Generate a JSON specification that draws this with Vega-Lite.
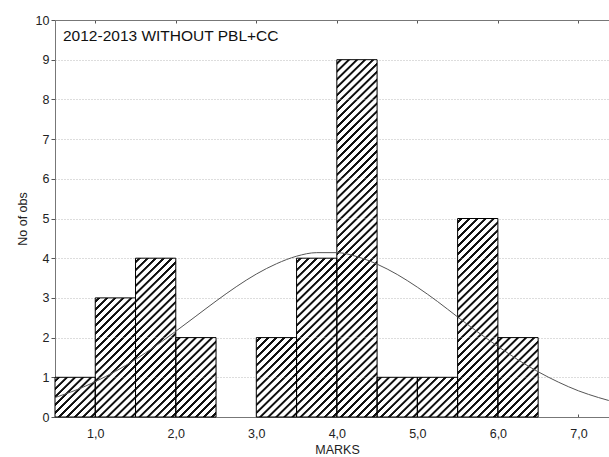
{
  "$schema": "https://vega.github.io/schema/vega-lite/v6.json",
  "width": 554,
  "height": 397,
  "autosize": "none",
  "padding": {"left": 55, "top": 20, "right": 0, "bottom": 40},
  "background": "white",
  "title": {
    "text": "2012-2013 WITHOUT PBL+CC",
    "anchor": "start",
    "frame": "group",
    "offset": -30,
    "dx": 8,
    "fontSize": 15.5,
    "fontWeight": "normal",
    "color": "#111111",
    "font": "Liberation Sans"
  },
  "config": {
    "font": "Liberation Sans",
    "view": {"stroke": null},
    "axisY": {
      "values": [0, 1, 2, 3, 4, 5, 6, 7, 8, 9, 10],
      "grid": true,
      "gridDash": [1, 2],
      "gridColor": "#bbbbbb",
      "gridWidth": 1,
      "domainColor": "#777777",
      "tickColor": "#555555",
      "tickSize": 4,
      "labelPadding": 2,
      "labelFontSize": 12.5,
      "labelColor": "#222222",
      "titleFontSize": 12.5,
      "titleFontWeight": "normal",
      "titleColor": "#222222",
      "titlePadding": 6
    }
  },
  "datasets": {
    "bins": [
      {"start": 0.5, "end": 1.0, "count": 1},
      {"start": 1.0, "end": 1.5, "count": 3},
      {"start": 1.5, "end": 2.0, "count": 4},
      {"start": 2.0, "end": 2.5, "count": 2},
      {"start": 2.5, "end": 3.0, "count": 0},
      {"start": 3.0, "end": 3.5, "count": 2},
      {"start": 3.5, "end": 4.0, "count": 4},
      {"start": 4.0, "end": 4.5, "count": 9},
      {"start": 4.5, "end": 5.0, "count": 1},
      {"start": 5.0, "end": 5.5, "count": 1},
      {"start": 5.5, "end": 6.0, "count": 5},
      {"start": 6.0, "end": 6.5, "count": 2},
      {"start": 6.5, "end": 7.0, "count": 0}
    ],
    "curve": [
      {"marks_value": 0.5, "expected": 0.49},
      {"marks_value": 0.75, "expected": 0.67},
      {"marks_value": 1.0, "expected": 0.89},
      {"marks_value": 1.25, "expected": 1.15},
      {"marks_value": 1.5, "expected": 1.45},
      {"marks_value": 1.75, "expected": 1.79},
      {"marks_value": 2.0, "expected": 2.16},
      {"marks_value": 2.25, "expected": 2.54},
      {"marks_value": 2.5, "expected": 2.92},
      {"marks_value": 2.75, "expected": 3.28},
      {"marks_value": 3.0, "expected": 3.6},
      {"marks_value": 3.25, "expected": 3.86},
      {"marks_value": 3.5, "expected": 4.05},
      {"marks_value": 3.75, "expected": 4.14},
      {"marks_value": 4.0, "expected": 4.14},
      {"marks_value": 4.25, "expected": 4.04},
      {"marks_value": 4.5, "expected": 3.85},
      {"marks_value": 4.75, "expected": 3.59},
      {"marks_value": 5.0, "expected": 3.27},
      {"marks_value": 5.25, "expected": 2.91},
      {"marks_value": 5.5, "expected": 2.52},
      {"marks_value": 5.75, "expected": 2.14},
      {"marks_value": 6.0, "expected": 1.78},
      {"marks_value": 6.25, "expected": 1.44},
      {"marks_value": 6.5, "expected": 1.14},
      {"marks_value": 6.75, "expected": 0.88},
      {"marks_value": 7.0, "expected": 0.66},
      {"marks_value": 7.25, "expected": 0.49},
      {"marks_value": 7.5, "expected": 0.35}
    ]
  },
  "resolve": {"axis": {"x": "independent"}},
  "layer": [
    {
      "data": {"name": "bins"},
      "encoding": {
        "x": {
          "field": "start",
          "type": "quantitative",
          "scale": {"domain": [0.5, 7.38], "nice": false, "zero": false},
          "axis": {
            "orient": "bottom",
            "values": [1, 2, 3, 4, 5, 6, 7],
            "labelExpr": "replace(format(datum.value, '.1f'), '.', ',')",
            "grid": false,
            "domainColor": "#777777",
            "tickColor": "#555555",
            "tickSize": -3,
            "labelPadding": 13,
            "labelFontSize": 12.5,
            "labelColor": "#222222",
            "title": "MARKS",
            "titleFontSize": 12.5,
            "titleFontWeight": "normal",
            "titleColor": "#222222",
            "titlePadding": 4,
            "titleX": 282
          }
        },
        "x2": {"field": "end"},
        "y": {
          "field": "count",
          "type": "quantitative",
          "scale": {"domain": [0, 10], "nice": false},
          "title": "No of obs"
        }
      },
      "layer": [
        {"transform": [{"filter": "datum.count >= 1"}], "mark": {"type": "rect", "opacity": 1, "fill": {"gradient": "linear", "x1": 0, "y1": 0, "x2": 1, "y2": 1, "stops": [{"offset": 0, "color": "#ffffff"}, {"offset": 0.028, "color": "#ffffff"}, {"offset": 0.036, "color": "#111111"}, {"offset": 0.064, "color": "#111111"}, {"offset": 0.072, "color": "#ffffff"}, {"offset": 0.128, "color": "#ffffff"}, {"offset": 0.136, "color": "#111111"}, {"offset": 0.164, "color": "#111111"}, {"offset": 0.172, "color": "#ffffff"}, {"offset": 0.228, "color": "#ffffff"}, {"offset": 0.236, "color": "#111111"}, {"offset": 0.264, "color": "#111111"}, {"offset": 0.272, "color": "#ffffff"}, {"offset": 0.328, "color": "#ffffff"}, {"offset": 0.336, "color": "#111111"}, {"offset": 0.364, "color": "#111111"}, {"offset": 0.372, "color": "#ffffff"}, {"offset": 0.428, "color": "#ffffff"}, {"offset": 0.436, "color": "#111111"}, {"offset": 0.464, "color": "#111111"}, {"offset": 0.472, "color": "#ffffff"}, {"offset": 0.528, "color": "#ffffff"}, {"offset": 0.536, "color": "#111111"}, {"offset": 0.564, "color": "#111111"}, {"offset": 0.572, "color": "#ffffff"}, {"offset": 0.628, "color": "#ffffff"}, {"offset": 0.636, "color": "#111111"}, {"offset": 0.664, "color": "#111111"}, {"offset": 0.672, "color": "#ffffff"}, {"offset": 0.728, "color": "#ffffff"}, {"offset": 0.736, "color": "#111111"}, {"offset": 0.764, "color": "#111111"}, {"offset": 0.772, "color": "#ffffff"}, {"offset": 0.828, "color": "#ffffff"}, {"offset": 0.836, "color": "#111111"}, {"offset": 0.864, "color": "#111111"}, {"offset": 0.872, "color": "#ffffff"}, {"offset": 0.928, "color": "#ffffff"}, {"offset": 0.936, "color": "#111111"}, {"offset": 0.964, "color": "#111111"}, {"offset": 0.972, "color": "#ffffff"}, {"offset": 1, "color": "#ffffff"}]}}, "encoding": {"y": {"datum": 0, "type": "quantitative"}, "y2": {"datum": 1}}},
        {"transform": [{"filter": "datum.count >= 2"}], "mark": {"type": "rect", "opacity": 1, "fill": {"gradient": "linear", "x1": 0, "y1": 0, "x2": 1, "y2": 1, "stops": [{"offset": 0, "color": "#ffffff"}, {"offset": 0.028, "color": "#ffffff"}, {"offset": 0.036, "color": "#111111"}, {"offset": 0.064, "color": "#111111"}, {"offset": 0.072, "color": "#ffffff"}, {"offset": 0.128, "color": "#ffffff"}, {"offset": 0.136, "color": "#111111"}, {"offset": 0.164, "color": "#111111"}, {"offset": 0.172, "color": "#ffffff"}, {"offset": 0.228, "color": "#ffffff"}, {"offset": 0.236, "color": "#111111"}, {"offset": 0.264, "color": "#111111"}, {"offset": 0.272, "color": "#ffffff"}, {"offset": 0.328, "color": "#ffffff"}, {"offset": 0.336, "color": "#111111"}, {"offset": 0.364, "color": "#111111"}, {"offset": 0.372, "color": "#ffffff"}, {"offset": 0.428, "color": "#ffffff"}, {"offset": 0.436, "color": "#111111"}, {"offset": 0.464, "color": "#111111"}, {"offset": 0.472, "color": "#ffffff"}, {"offset": 0.528, "color": "#ffffff"}, {"offset": 0.536, "color": "#111111"}, {"offset": 0.564, "color": "#111111"}, {"offset": 0.572, "color": "#ffffff"}, {"offset": 0.628, "color": "#ffffff"}, {"offset": 0.636, "color": "#111111"}, {"offset": 0.664, "color": "#111111"}, {"offset": 0.672, "color": "#ffffff"}, {"offset": 0.728, "color": "#ffffff"}, {"offset": 0.736, "color": "#111111"}, {"offset": 0.764, "color": "#111111"}, {"offset": 0.772, "color": "#ffffff"}, {"offset": 0.828, "color": "#ffffff"}, {"offset": 0.836, "color": "#111111"}, {"offset": 0.864, "color": "#111111"}, {"offset": 0.872, "color": "#ffffff"}, {"offset": 0.928, "color": "#ffffff"}, {"offset": 0.936, "color": "#111111"}, {"offset": 0.964, "color": "#111111"}, {"offset": 0.972, "color": "#ffffff"}, {"offset": 1, "color": "#ffffff"}]}}, "encoding": {"y": {"datum": 1, "type": "quantitative"}, "y2": {"datum": 2}}},
        {"transform": [{"filter": "datum.count >= 3"}], "mark": {"type": "rect", "opacity": 1, "fill": {"gradient": "linear", "x1": 0, "y1": 0, "x2": 1, "y2": 1, "stops": [{"offset": 0, "color": "#ffffff"}, {"offset": 0.028, "color": "#ffffff"}, {"offset": 0.036, "color": "#111111"}, {"offset": 0.064, "color": "#111111"}, {"offset": 0.072, "color": "#ffffff"}, {"offset": 0.128, "color": "#ffffff"}, {"offset": 0.136, "color": "#111111"}, {"offset": 0.164, "color": "#111111"}, {"offset": 0.172, "color": "#ffffff"}, {"offset": 0.228, "color": "#ffffff"}, {"offset": 0.236, "color": "#111111"}, {"offset": 0.264, "color": "#111111"}, {"offset": 0.272, "color": "#ffffff"}, {"offset": 0.328, "color": "#ffffff"}, {"offset": 0.336, "color": "#111111"}, {"offset": 0.364, "color": "#111111"}, {"offset": 0.372, "color": "#ffffff"}, {"offset": 0.428, "color": "#ffffff"}, {"offset": 0.436, "color": "#111111"}, {"offset": 0.464, "color": "#111111"}, {"offset": 0.472, "color": "#ffffff"}, {"offset": 0.528, "color": "#ffffff"}, {"offset": 0.536, "color": "#111111"}, {"offset": 0.564, "color": "#111111"}, {"offset": 0.572, "color": "#ffffff"}, {"offset": 0.628, "color": "#ffffff"}, {"offset": 0.636, "color": "#111111"}, {"offset": 0.664, "color": "#111111"}, {"offset": 0.672, "color": "#ffffff"}, {"offset": 0.728, "color": "#ffffff"}, {"offset": 0.736, "color": "#111111"}, {"offset": 0.764, "color": "#111111"}, {"offset": 0.772, "color": "#ffffff"}, {"offset": 0.828, "color": "#ffffff"}, {"offset": 0.836, "color": "#111111"}, {"offset": 0.864, "color": "#111111"}, {"offset": 0.872, "color": "#ffffff"}, {"offset": 0.928, "color": "#ffffff"}, {"offset": 0.936, "color": "#111111"}, {"offset": 0.964, "color": "#111111"}, {"offset": 0.972, "color": "#ffffff"}, {"offset": 1, "color": "#ffffff"}]}}, "encoding": {"y": {"datum": 2, "type": "quantitative"}, "y2": {"datum": 3}}},
        {"transform": [{"filter": "datum.count >= 4"}], "mark": {"type": "rect", "opacity": 1, "fill": {"gradient": "linear", "x1": 0, "y1": 0, "x2": 1, "y2": 1, "stops": [{"offset": 0, "color": "#ffffff"}, {"offset": 0.028, "color": "#ffffff"}, {"offset": 0.036, "color": "#111111"}, {"offset": 0.064, "color": "#111111"}, {"offset": 0.072, "color": "#ffffff"}, {"offset": 0.128, "color": "#ffffff"}, {"offset": 0.136, "color": "#111111"}, {"offset": 0.164, "color": "#111111"}, {"offset": 0.172, "color": "#ffffff"}, {"offset": 0.228, "color": "#ffffff"}, {"offset": 0.236, "color": "#111111"}, {"offset": 0.264, "color": "#111111"}, {"offset": 0.272, "color": "#ffffff"}, {"offset": 0.328, "color": "#ffffff"}, {"offset": 0.336, "color": "#111111"}, {"offset": 0.364, "color": "#111111"}, {"offset": 0.372, "color": "#ffffff"}, {"offset": 0.428, "color": "#ffffff"}, {"offset": 0.436, "color": "#111111"}, {"offset": 0.464, "color": "#111111"}, {"offset": 0.472, "color": "#ffffff"}, {"offset": 0.528, "color": "#ffffff"}, {"offset": 0.536, "color": "#111111"}, {"offset": 0.564, "color": "#111111"}, {"offset": 0.572, "color": "#ffffff"}, {"offset": 0.628, "color": "#ffffff"}, {"offset": 0.636, "color": "#111111"}, {"offset": 0.664, "color": "#111111"}, {"offset": 0.672, "color": "#ffffff"}, {"offset": 0.728, "color": "#ffffff"}, {"offset": 0.736, "color": "#111111"}, {"offset": 0.764, "color": "#111111"}, {"offset": 0.772, "color": "#ffffff"}, {"offset": 0.828, "color": "#ffffff"}, {"offset": 0.836, "color": "#111111"}, {"offset": 0.864, "color": "#111111"}, {"offset": 0.872, "color": "#ffffff"}, {"offset": 0.928, "color": "#ffffff"}, {"offset": 0.936, "color": "#111111"}, {"offset": 0.964, "color": "#111111"}, {"offset": 0.972, "color": "#ffffff"}, {"offset": 1, "color": "#ffffff"}]}}, "encoding": {"y": {"datum": 3, "type": "quantitative"}, "y2": {"datum": 4}}},
        {"transform": [{"filter": "datum.count >= 5"}], "mark": {"type": "rect", "opacity": 1, "fill": {"gradient": "linear", "x1": 0, "y1": 0, "x2": 1, "y2": 1, "stops": [{"offset": 0, "color": "#ffffff"}, {"offset": 0.028, "color": "#ffffff"}, {"offset": 0.036, "color": "#111111"}, {"offset": 0.064, "color": "#111111"}, {"offset": 0.072, "color": "#ffffff"}, {"offset": 0.128, "color": "#ffffff"}, {"offset": 0.136, "color": "#111111"}, {"offset": 0.164, "color": "#111111"}, {"offset": 0.172, "color": "#ffffff"}, {"offset": 0.228, "color": "#ffffff"}, {"offset": 0.236, "color": "#111111"}, {"offset": 0.264, "color": "#111111"}, {"offset": 0.272, "color": "#ffffff"}, {"offset": 0.328, "color": "#ffffff"}, {"offset": 0.336, "color": "#111111"}, {"offset": 0.364, "color": "#111111"}, {"offset": 0.372, "color": "#ffffff"}, {"offset": 0.428, "color": "#ffffff"}, {"offset": 0.436, "color": "#111111"}, {"offset": 0.464, "color": "#111111"}, {"offset": 0.472, "color": "#ffffff"}, {"offset": 0.528, "color": "#ffffff"}, {"offset": 0.536, "color": "#111111"}, {"offset": 0.564, "color": "#111111"}, {"offset": 0.572, "color": "#ffffff"}, {"offset": 0.628, "color": "#ffffff"}, {"offset": 0.636, "color": "#111111"}, {"offset": 0.664, "color": "#111111"}, {"offset": 0.672, "color": "#ffffff"}, {"offset": 0.728, "color": "#ffffff"}, {"offset": 0.736, "color": "#111111"}, {"offset": 0.764, "color": "#111111"}, {"offset": 0.772, "color": "#ffffff"}, {"offset": 0.828, "color": "#ffffff"}, {"offset": 0.836, "color": "#111111"}, {"offset": 0.864, "color": "#111111"}, {"offset": 0.872, "color": "#ffffff"}, {"offset": 0.928, "color": "#ffffff"}, {"offset": 0.936, "color": "#111111"}, {"offset": 0.964, "color": "#111111"}, {"offset": 0.972, "color": "#ffffff"}, {"offset": 1, "color": "#ffffff"}]}}, "encoding": {"y": {"datum": 4, "type": "quantitative"}, "y2": {"datum": 5}}},
        {"transform": [{"filter": "datum.count >= 6"}], "mark": {"type": "rect", "opacity": 1, "fill": {"gradient": "linear", "x1": 0, "y1": 0, "x2": 1, "y2": 1, "stops": [{"offset": 0, "color": "#ffffff"}, {"offset": 0.028, "color": "#ffffff"}, {"offset": 0.036, "color": "#111111"}, {"offset": 0.064, "color": "#111111"}, {"offset": 0.072, "color": "#ffffff"}, {"offset": 0.128, "color": "#ffffff"}, {"offset": 0.136, "color": "#111111"}, {"offset": 0.164, "color": "#111111"}, {"offset": 0.172, "color": "#ffffff"}, {"offset": 0.228, "color": "#ffffff"}, {"offset": 0.236, "color": "#111111"}, {"offset": 0.264, "color": "#111111"}, {"offset": 0.272, "color": "#ffffff"}, {"offset": 0.328, "color": "#ffffff"}, {"offset": 0.336, "color": "#111111"}, {"offset": 0.364, "color": "#111111"}, {"offset": 0.372, "color": "#ffffff"}, {"offset": 0.428, "color": "#ffffff"}, {"offset": 0.436, "color": "#111111"}, {"offset": 0.464, "color": "#111111"}, {"offset": 0.472, "color": "#ffffff"}, {"offset": 0.528, "color": "#ffffff"}, {"offset": 0.536, "color": "#111111"}, {"offset": 0.564, "color": "#111111"}, {"offset": 0.572, "color": "#ffffff"}, {"offset": 0.628, "color": "#ffffff"}, {"offset": 0.636, "color": "#111111"}, {"offset": 0.664, "color": "#111111"}, {"offset": 0.672, "color": "#ffffff"}, {"offset": 0.728, "color": "#ffffff"}, {"offset": 0.736, "color": "#111111"}, {"offset": 0.764, "color": "#111111"}, {"offset": 0.772, "color": "#ffffff"}, {"offset": 0.828, "color": "#ffffff"}, {"offset": 0.836, "color": "#111111"}, {"offset": 0.864, "color": "#111111"}, {"offset": 0.872, "color": "#ffffff"}, {"offset": 0.928, "color": "#ffffff"}, {"offset": 0.936, "color": "#111111"}, {"offset": 0.964, "color": "#111111"}, {"offset": 0.972, "color": "#ffffff"}, {"offset": 1, "color": "#ffffff"}]}}, "encoding": {"y": {"datum": 5, "type": "quantitative"}, "y2": {"datum": 6}}},
        {"transform": [{"filter": "datum.count >= 7"}], "mark": {"type": "rect", "opacity": 1, "fill": {"gradient": "linear", "x1": 0, "y1": 0, "x2": 1, "y2": 1, "stops": [{"offset": 0, "color": "#ffffff"}, {"offset": 0.028, "color": "#ffffff"}, {"offset": 0.036, "color": "#111111"}, {"offset": 0.064, "color": "#111111"}, {"offset": 0.072, "color": "#ffffff"}, {"offset": 0.128, "color": "#ffffff"}, {"offset": 0.136, "color": "#111111"}, {"offset": 0.164, "color": "#111111"}, {"offset": 0.172, "color": "#ffffff"}, {"offset": 0.228, "color": "#ffffff"}, {"offset": 0.236, "color": "#111111"}, {"offset": 0.264, "color": "#111111"}, {"offset": 0.272, "color": "#ffffff"}, {"offset": 0.328, "color": "#ffffff"}, {"offset": 0.336, "color": "#111111"}, {"offset": 0.364, "color": "#111111"}, {"offset": 0.372, "color": "#ffffff"}, {"offset": 0.428, "color": "#ffffff"}, {"offset": 0.436, "color": "#111111"}, {"offset": 0.464, "color": "#111111"}, {"offset": 0.472, "color": "#ffffff"}, {"offset": 0.528, "color": "#ffffff"}, {"offset": 0.536, "color": "#111111"}, {"offset": 0.564, "color": "#111111"}, {"offset": 0.572, "color": "#ffffff"}, {"offset": 0.628, "color": "#ffffff"}, {"offset": 0.636, "color": "#111111"}, {"offset": 0.664, "color": "#111111"}, {"offset": 0.672, "color": "#ffffff"}, {"offset": 0.728, "color": "#ffffff"}, {"offset": 0.736, "color": "#111111"}, {"offset": 0.764, "color": "#111111"}, {"offset": 0.772, "color": "#ffffff"}, {"offset": 0.828, "color": "#ffffff"}, {"offset": 0.836, "color": "#111111"}, {"offset": 0.864, "color": "#111111"}, {"offset": 0.872, "color": "#ffffff"}, {"offset": 0.928, "color": "#ffffff"}, {"offset": 0.936, "color": "#111111"}, {"offset": 0.964, "color": "#111111"}, {"offset": 0.972, "color": "#ffffff"}, {"offset": 1, "color": "#ffffff"}]}}, "encoding": {"y": {"datum": 6, "type": "quantitative"}, "y2": {"datum": 7}}},
        {"transform": [{"filter": "datum.count >= 8"}], "mark": {"type": "rect", "opacity": 1, "fill": {"gradient": "linear", "x1": 0, "y1": 0, "x2": 1, "y2": 1, "stops": [{"offset": 0, "color": "#ffffff"}, {"offset": 0.028, "color": "#ffffff"}, {"offset": 0.036, "color": "#111111"}, {"offset": 0.064, "color": "#111111"}, {"offset": 0.072, "color": "#ffffff"}, {"offset": 0.128, "color": "#ffffff"}, {"offset": 0.136, "color": "#111111"}, {"offset": 0.164, "color": "#111111"}, {"offset": 0.172, "color": "#ffffff"}, {"offset": 0.228, "color": "#ffffff"}, {"offset": 0.236, "color": "#111111"}, {"offset": 0.264, "color": "#111111"}, {"offset": 0.272, "color": "#ffffff"}, {"offset": 0.328, "color": "#ffffff"}, {"offset": 0.336, "color": "#111111"}, {"offset": 0.364, "color": "#111111"}, {"offset": 0.372, "color": "#ffffff"}, {"offset": 0.428, "color": "#ffffff"}, {"offset": 0.436, "color": "#111111"}, {"offset": 0.464, "color": "#111111"}, {"offset": 0.472, "color": "#ffffff"}, {"offset": 0.528, "color": "#ffffff"}, {"offset": 0.536, "color": "#111111"}, {"offset": 0.564, "color": "#111111"}, {"offset": 0.572, "color": "#ffffff"}, {"offset": 0.628, "color": "#ffffff"}, {"offset": 0.636, "color": "#111111"}, {"offset": 0.664, "color": "#111111"}, {"offset": 0.672, "color": "#ffffff"}, {"offset": 0.728, "color": "#ffffff"}, {"offset": 0.736, "color": "#111111"}, {"offset": 0.764, "color": "#111111"}, {"offset": 0.772, "color": "#ffffff"}, {"offset": 0.828, "color": "#ffffff"}, {"offset": 0.836, "color": "#111111"}, {"offset": 0.864, "color": "#111111"}, {"offset": 0.872, "color": "#ffffff"}, {"offset": 0.928, "color": "#ffffff"}, {"offset": 0.936, "color": "#111111"}, {"offset": 0.964, "color": "#111111"}, {"offset": 0.972, "color": "#ffffff"}, {"offset": 1, "color": "#ffffff"}]}}, "encoding": {"y": {"datum": 7, "type": "quantitative"}, "y2": {"datum": 8}}},
        {"transform": [{"filter": "datum.count >= 9"}], "mark": {"type": "rect", "opacity": 1, "fill": {"gradient": "linear", "x1": 0, "y1": 0, "x2": 1, "y2": 1, "stops": [{"offset": 0, "color": "#ffffff"}, {"offset": 0.028, "color": "#ffffff"}, {"offset": 0.036, "color": "#111111"}, {"offset": 0.064, "color": "#111111"}, {"offset": 0.072, "color": "#ffffff"}, {"offset": 0.128, "color": "#ffffff"}, {"offset": 0.136, "color": "#111111"}, {"offset": 0.164, "color": "#111111"}, {"offset": 0.172, "color": "#ffffff"}, {"offset": 0.228, "color": "#ffffff"}, {"offset": 0.236, "color": "#111111"}, {"offset": 0.264, "color": "#111111"}, {"offset": 0.272, "color": "#ffffff"}, {"offset": 0.328, "color": "#ffffff"}, {"offset": 0.336, "color": "#111111"}, {"offset": 0.364, "color": "#111111"}, {"offset": 0.372, "color": "#ffffff"}, {"offset": 0.428, "color": "#ffffff"}, {"offset": 0.436, "color": "#111111"}, {"offset": 0.464, "color": "#111111"}, {"offset": 0.472, "color": "#ffffff"}, {"offset": 0.528, "color": "#ffffff"}, {"offset": 0.536, "color": "#111111"}, {"offset": 0.564, "color": "#111111"}, {"offset": 0.572, "color": "#ffffff"}, {"offset": 0.628, "color": "#ffffff"}, {"offset": 0.636, "color": "#111111"}, {"offset": 0.664, "color": "#111111"}, {"offset": 0.672, "color": "#ffffff"}, {"offset": 0.728, "color": "#ffffff"}, {"offset": 0.736, "color": "#111111"}, {"offset": 0.764, "color": "#111111"}, {"offset": 0.772, "color": "#ffffff"}, {"offset": 0.828, "color": "#ffffff"}, {"offset": 0.836, "color": "#111111"}, {"offset": 0.864, "color": "#111111"}, {"offset": 0.872, "color": "#ffffff"}, {"offset": 0.928, "color": "#ffffff"}, {"offset": 0.936, "color": "#111111"}, {"offset": 0.964, "color": "#111111"}, {"offset": 0.972, "color": "#ffffff"}, {"offset": 1, "color": "#ffffff"}]}}, "encoding": {"y": {"datum": 8, "type": "quantitative"}, "y2": {"datum": 9}}},
        {
          "transform": [{"filter": "datum.count > 0"}],
          "mark": {"type": "rect", "fill": "white", "fillOpacity": 0, "stroke": "#000000", "strokeWidth": 1},
          "encoding": {"y2": {"datum": 0}}
        }
      ]
    },
    {
      "data": {"name": "curve"},
      "mark": {"type": "line", "color": "#555555", "strokeWidth": 1, "interpolate": "monotone", "clip": true},
      "encoding": {
        "x": {
          "field": "marks_value",
          "type": "quantitative",
          "scale": {"domain": [0.5, 7.38], "nice": false, "zero": false},
          "axis": {
            "orient": "top",
            "values": [1, 2, 3, 4, 5, 6, 7],
            "labels": false,
            "grid": false,
            "domainColor": "#777777",
            "tickColor": "#555555",
            "tickSize": -3,
            "title": null
          }
        },
        "y": {"field": "expected", "type": "quantitative", "title": "No of obs"}
      }
    }
  ]
}
